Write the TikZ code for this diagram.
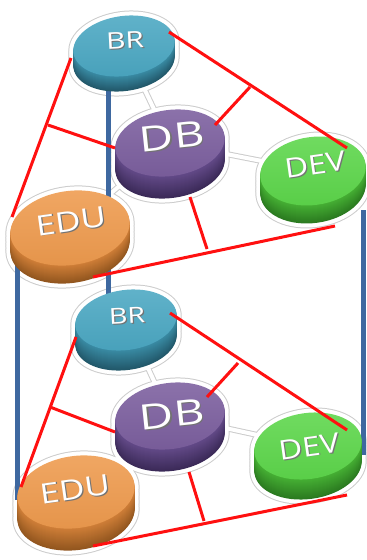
\documentclass[tikz,border=0pt]{standalone}
\usepackage{fontspec}
\setmainfont{Open Sans}
\usetikzlibrary{calc}
\definecolor{brtop}{HTML}{4AA7C2}\definecolor{brsl}{HTML}{3A8CA5}\definecolor{brsd}{HTML}{22586A}
\definecolor{dbtop}{HTML}{7B5E9E}\definecolor{dbsl}{HTML}{634A88}\definecolor{dbsd}{HTML}{3B2A58}
\definecolor{devtop}{HTML}{5CD64A}\definecolor{devsl}{HTML}{46B034}\definecolor{devsd}{HTML}{2B7A20}
\definecolor{edutop}{HTML}{EE9A4D}\definecolor{edusl}{HTML}{D07F38}\definecolor{edusd}{HTML}{92561F}
\definecolor{pillar}{HTML}{3E68A0}
\definecolor{redc}{HTML}{FF1010}
\tikzset{
  halogray/.style={draw=gray!40, fill=gray!40, line width=10pt},
  halowhite/.style={draw=white, fill=white, line width=8pt},
  congray/.style={draw=gray!40, line width=6pt},
  conwhite/.style={draw=white, line width=4pt},
  redline/.style={draw=redc, line width=3pt},
  blueline/.style={draw=pillar, line width=5pt},
  disctxt/.style={text=white, inner sep=0pt},
}
% halo: cx cy rx ry t rot style
\newcommand\myhalo[7]{%
  \foreach \k in {0,0.333,0.667,1}{%
    \path[#7, shift={(#1,#2+\k*#5)}, rotate=#6] (0,0) ellipse [x radius=#3, y radius=#4];}%
}
% disc: cx cy rx ry t rot top sidelight sidedark
\newcommand\mydisc[9]{%
  \foreach \k in {#5,...,1}{%
    \pgfmathsetmacro\pp{100*\k/#5}%
    \fill[#9!\pp!#8, shift={(#1,#2+\k)}, rotate=#6] (0,0) ellipse [x radius=#3, y radius=#4];}%
  \shade[top color=#7!88!white, bottom color=#7!96!black, shift={(#1,#2)}, rotate=#6] (0,0) ellipse [x radius=#3, y radius=#4];
}
% label with drop shadow: name x y rot size xscale text
\newcommand\mylabel[7]{%
  \node[disctxt, rotate=#4] (#1) at (#2,#3) {\fontsize{#5}{#5}\selectfont\scalebox{#6}[1]{\rlap{\kern0.9pt\raisebox{-0.9pt}{\textcolor{black!55}{#7}}}#7}};
}
\begin{document}
\begin{tikzpicture}[x=1pt,y=-1pt]
\useasboundingbox (0,0) rectangle (367,560);
% disc centres
\coordinate (br1) at (124,46);  \coordinate (db1) at (170,143);
\coordinate (dev1) at (313,171); \coordinate (edu1) at (70,228);
\coordinate (br2) at (126,320); \coordinate (db2) at (170,416);
\coordinate (dev2) at (308,446); \coordinate (edu2) at (76,492);
% pillar ends
\coordinate (pc1) at (108,70);  \coordinate (pc2) at (108,320);
\coordinate (pl1) at (17,255);  \coordinate (pl2) at (17,500);
\coordinate (pr1) at (363,210); \coordinate (pr2) at (363,455);
% halos
\myhalo{124}{46}{51}{30}{15}{8}{halogray}
\myhalo{170}{143}{55}{33}{22}{8}{halogray}
\myhalo{313}{171}{53}{34}{18}{8}{halogray}
\myhalo{70}{228}{60}{37}{18}{8}{halogray}
\myhalo{126}{320}{51}{30}{20}{8}{halogray}
\myhalo{170}{416}{55}{33}{22}{8}{halogray}
\myhalo{308}{446}{54}{33}{20}{8}{halogray}
\myhalo{76}{492}{59}{36}{22}{8}{halogray}
\foreach \a/\b in {br1/db1,db1/dev1,db1/edu1,br2/db2,db2/dev2,db2/edu2}{\draw[congray] (\a) -- (\b);}
\myhalo{124}{46}{51}{30}{15}{8}{halowhite}
\myhalo{170}{143}{55}{33}{22}{8}{halowhite}
\myhalo{313}{171}{53}{34}{18}{8}{halowhite}
\myhalo{70}{228}{60}{37}{18}{8}{halowhite}
\myhalo{126}{320}{51}{30}{20}{8}{halowhite}
\myhalo{170}{416}{55}{33}{22}{8}{halowhite}
\myhalo{308}{446}{54}{33}{20}{8}{halowhite}
\myhalo{76}{492}{59}{36}{22}{8}{halowhite}
\foreach \a/\b in {br1/db1,db1/dev1,db1/edu1,br2/db2,db2/dev2,db2/edu2}{\draw[conwhite] (\a) -- (\b);}
% pillars
\draw[blueline] (pc1) -- (pc2);
\draw[blueline] (pl1) -- (pl2);
\draw[blueline] (pr1) -- (pr2);
% discs
\mydisc{124}{46}{51}{30}{15}{8}{brtop}{brsl}{brsd}
\mydisc{170}{143}{55}{33}{22}{8}{dbtop}{dbsl}{dbsd}
\mydisc{313}{171}{53}{34}{18}{8}{devtop}{devsl}{devsd}
\mydisc{70}{228}{60}{37}{18}{8}{edutop}{edusl}{edusd}
\mydisc{126}{320}{51}{30}{20}{8}{brtop}{brsl}{brsd}
\mydisc{170}{416}{55}{33}{22}{8}{dbtop}{dbsl}{dbsd}
\mydisc{308}{446}{54}{33}{20}{8}{devtop}{devsl}{devsd}
\mydisc{76}{492}{59}{36}{22}{8}{edutop}{edusl}{edusd}
% red link points, upper
\coordinate (a1) at (71,58);   \coordinate (a2) at (12,217);
\coordinate (ja) at (48,125);  \coordinate (da) at (115,148);
\coordinate (b1) at (169,32);  \coordinate (b2) at (347,148);
\coordinate (jb) at (250,87);  \coordinate (dbb) at (215,125);
\coordinate (c1) at (93,277);  \coordinate (c2) at (335,226);
\coordinate (jc) at (207,249); \coordinate (dc) at (190,197);
% red link points, lower
\coordinate (A1) at (76,337);  \coordinate (A2) at (21,487);
\coordinate (JA) at (50,407);  \coordinate (DA) at (115,432);
\coordinate (B1) at (170,313); \coordinate (B2) at (347,430);
\coordinate (JB) at (238,363); \coordinate (DBB) at (207,397);
\coordinate (C1) at (93,546);  \coordinate (C2) at (347,495);
\coordinate (JC) at (204,521); \coordinate (DC) at (189,472);
\foreach \p/\q in {a1/a2,ja/da,b1/b2,jb/dbb,c1/c2,jc/dc,A1/A2,JA/DA,B1/B2,JB/DBB,C1/C2,JC/DC}{\draw[redline] (\p) -- (\q);}
% labels
\mylabel{tbr1}{125}{41}{3}{23}{1.3}{BR}
\mylabel{tdb1}{172}{137}{6}{35}{1.35}{DB}
\mylabel{tdev1}{315}{165}{8}{27}{1.2}{DEV}
\mylabel{tedu1}{71}{222}{8}{28}{1.25}{EDU}
\mylabel{tbr2}{127}{316}{3}{22}{1.3}{BR}
\mylabel{tdb2}{172}{415}{6}{35}{1.35}{DB}
\mylabel{tdev2}{309}{447}{8}{27}{1.2}{DEV}
\mylabel{tedu2}{75}{490}{8}{28}{1.25}{EDU}
\end{tikzpicture}
\end{document}
